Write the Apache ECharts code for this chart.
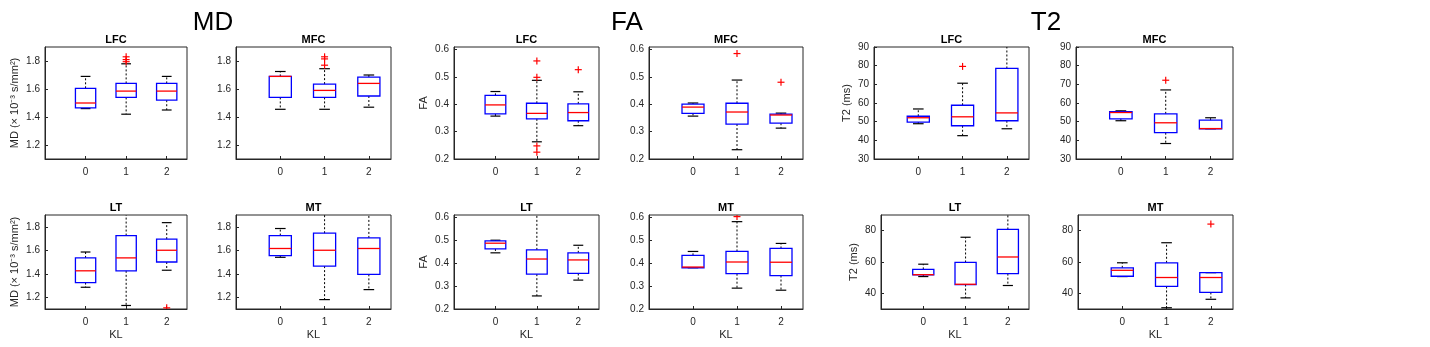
<!DOCTYPE html>
<html>
<head>
<meta charset="utf-8">
<script src="https://cdn.jsdelivr.net/npm/echarts@6/dist/echarts.min.js"></script>
<style>
  html, body { margin: 0; padding: 0; background: #fff; }
  #main { width: 1430px; height: 347px; }
</style>
</head>
<body>
<div id="main"></div>
<script>
// KL grades (x positions) and tick values
const kl = [0, 1, 2];
const mdTicks = [1.2, 1.4, 1.6, 1.8];
const faTicks = [0.2, 0.3, 0.4, 0.5, 0.6];
const t2TicksTop = [30, 40, 50, 60, 70, 80, 90];
const t2TicksBottom = [40, 60, 80];

// box stats per KL group: [lower whisker, q1, median, q3, upper whisker]
const mdLFC = [[1.46, 1.465, 1.50, 1.605, 1.69], [1.42, 1.54, 1.585, 1.64, 1.78], [1.45, 1.52, 1.585, 1.64, 1.69]];
const mdLFCOut = [[], [1.795, 1.81, 1.83], []];
const mdMFC = [[1.455, 1.54, 1.69, 1.69, 1.725], [1.455, 1.54, 1.59, 1.635, 1.745], [1.47, 1.55, 1.64, 1.685, 1.70]];
const mdMFCOut = [[], [1.77, 1.815, 1.83], []];
const mdLT = [[1.285, 1.325, 1.425, 1.535, 1.585], [1.13, 1.425, 1.535, 1.725, 1.95], [1.43, 1.50, 1.60, 1.695, 1.835]];
const mdLTOut = [[], [], [1.11]];
const mdMT = [[1.54, 1.555, 1.615, 1.725, 1.785], [1.18, 1.465, 1.60, 1.745, 1.95], [1.265, 1.395, 1.615, 1.705, 1.95]];
const mdMTOut = [[], [], []];

const faLFC = [[0.357, 0.365, 0.398, 0.433, 0.447], [0.263, 0.347, 0.367, 0.404, 0.488], [0.322, 0.34, 0.37, 0.402, 0.446]];
const faLFCOut = [[], [0.225, 0.248, 0.499, 0.559], [0.527]];
const faMFC = [[0.357, 0.367, 0.39, 0.401, 0.405], [0.234, 0.328, 0.372, 0.404, 0.489], [0.313, 0.331, 0.361, 0.364, 0.368]];
const faMFCOut = [[], [0.586], [0.481]];
const faLT = [[0.445, 0.462, 0.487, 0.497, 0.50], [0.257, 0.352, 0.418, 0.458, 0.65], [0.326, 0.355, 0.414, 0.445, 0.478]];
const faLTOut = [[], [], []];
const faMT = [[0.38, 0.38, 0.383, 0.434, 0.451], [0.291, 0.354, 0.405, 0.451, 0.581], [0.282, 0.346, 0.404, 0.464, 0.486]];
const faMTOut = [[], [0.603], []];

const t2LFC = [[48.9, 49.8, 52.1, 52.9, 56.8], [42.5, 47.8, 52.6, 58.8, 70.6], [46.2, 50.5, 54.7, 78.5, 95]];
const t2LFCOut = [[], [79.6], []];
const t2MFC = [[50.5, 51.5, 54.9, 55.4, 55.8], [38.3, 44.1, 49.4, 54.2, 67], [46.2, 46.2, 46.3, 50.8, 52.1]];
const t2MFCOut = [[], [72.2], []];
const t2LT = [[50.7, 51.8, 51.9, 55.3, 58.6], [37.1, 45.6, 45.8, 59.7, 75.8], [45.0, 52.6, 63.2, 80.8, 95]];
const t2LTOut = [[], [], []];
const t2MT = [[50.7, 50.9, 54.7, 56.3, 59.5], [30.8, 44.4, 50.1, 59.5, 72.3], [36.2, 40.6, 50.1, 53.2, 53.2]];
const t2MTOut = [[], [], [84.2]];

const FONT = '"Liberation Sans", Arial, sans-serif';
const TXT = '#262626';
const mdName = 'MD (× 10⁻³ s/mm²)';

// layout of each panel
const panels = [
  { box: mdLFC, out: mdLFCOut, title: 'LFC', left: 45, top: 47, width: 142, height: 112, min: 1.1, max: 1.9, ticks: mdTicks, yName: mdName, gap: 25 },
  { box: mdMFC, out: mdMFCOut, title: 'MFC', left: 236, top: 47, width: 155, height: 112, min: 1.1, max: 1.9, ticks: mdTicks },
  { box: mdLT, out: mdLTOut, title: 'LT', left: 45, top: 215, width: 142, height: 94, min: 1.1, max: 1.9, ticks: mdTicks, yName: mdName, gap: 25, kl: true },
  { box: mdMT, out: mdMTOut, title: 'MT', left: 236, top: 215, width: 155, height: 94, min: 1.1, max: 1.9, ticks: mdTicks, kl: true },
  { box: faLFC, out: faLFCOut, title: 'LFC', left: 454, top: 47, width: 145, height: 112, min: 0.2, max: 0.61, ticks: faTicks, yName: 'FA', gap: 25 },
  { box: faMFC, out: faMFCOut, title: 'MFC', left: 649, top: 47, width: 154, height: 112, min: 0.2, max: 0.61, ticks: faTicks },
  { box: faLT, out: faLTOut, title: 'LT', left: 454, top: 215, width: 145, height: 94, min: 0.2, max: 0.61, ticks: faTicks, yName: 'FA', gap: 25, kl: true },
  { box: faMT, out: faMTOut, title: 'MT', left: 649, top: 215, width: 154, height: 94, min: 0.2, max: 0.61, ticks: faTicks, kl: true },
  { box: t2LFC, out: t2LFCOut, title: 'LFC', left: 874, top: 47, width: 155, height: 112, min: 30, max: 90, ticks: t2TicksTop, yName: 'T2 (ms)', gap: 22 },
  { box: t2MFC, out: t2MFCOut, title: 'MFC', left: 1076, top: 47, width: 157, height: 112, min: 30, max: 90, ticks: t2TicksTop },
  { box: t2LT, out: t2LTOut, title: 'LT', left: 881, top: 215, width: 148, height: 94, min: 30, max: 90, ticks: t2TicksBottom, yName: 'T2 (ms)', gap: 22, kl: true },
  { box: t2MT, out: t2MTOut, title: 'MT', left: 1078, top: 215, width: 155, height: 94, min: 30, max: 90, ticks: t2TicksBottom, kl: true }
];

function renderBox(params, api) {
  const x = api.value(0);
  const lo = api.coord([x, api.value(1)]);
  const q1 = api.coord([x, api.value(2)]);
  const md = api.coord([x, api.value(3)]);
  const q3 = api.coord([x, api.value(4)]);
  const hi = api.coord([x, api.value(5)]);
  const unit = api.size([1, 0])[0];
  const bw = unit * 0.25;
  const cw = unit * 0.12;
  const cx = q1[0];
  const dash = { stroke: '#000', lineWidth: 1, lineDash: [2, 2] };
  const cap = { stroke: '#000', lineWidth: 1.2 };
  return {
    type: 'group',
    children: [
      { type: 'line', shape: { x1: cx, y1: q3[1], x2: cx, y2: hi[1] }, style: dash },
      { type: 'line', shape: { x1: cx, y1: q1[1], x2: cx, y2: lo[1] }, style: dash },
      { type: 'line', shape: { x1: cx - cw, y1: hi[1], x2: cx + cw, y2: hi[1] }, style: cap },
      { type: 'line', shape: { x1: cx - cw, y1: lo[1], x2: cx + cw, y2: lo[1] }, style: cap },
      { type: 'rect', shape: { x: cx - bw, y: q3[1], width: bw * 2, height: q1[1] - q3[1] },
        style: { fill: 'none', stroke: '#0000ff', lineWidth: 1.3 } },
      { type: 'line', shape: { x1: cx - bw, y1: md[1], x2: cx + bw, y2: md[1] },
        style: { stroke: '#ff0000', lineWidth: 1.3 } }
    ]
  };
}

function renderPlus(params, api) {
  const p = api.coord([api.value(0), api.value(1)]);
  const s = 3.5;
  const st = { stroke: '#ff0000', lineWidth: 1.2 };
  return {
    type: 'group',
    children: [
      { type: 'line', shape: { x1: p[0] - s, y1: p[1], x2: p[0] + s, y2: p[1] }, style: st },
      { type: 'line', shape: { x1: p[0], y1: p[1] - s, x2: p[0], y2: p[1] + s }, style: st }
    ]
  };
}

const grid = [], xAxis = [], yAxis = [], series = [], graphic = [];

panels.forEach((p, i) => {
  grid.push({ left: p.left, top: p.top, width: p.width, height: p.height,
    show: true, borderColor: TXT, borderWidth: 1, backgroundColor: '#fff' });
  xAxis.push({
    gridIndex: i, type: 'value', min: -1, max: 2.5,
    axisLine: { onZero: false, lineStyle: { color: TXT } },
    axisTick: { inside: true, length: 3, customValues: kl, lineStyle: { color: TXT } },
    axisLabel: { customValues: kl, color: TXT, fontSize: 10, fontFamily: FONT, margin: 8 },
    splitLine: { show: false },
    name: p.kl ? 'KL' : '', nameLocation: 'middle', nameGap: 20,
    nameTextStyle: { color: TXT, fontSize: 11, fontFamily: FONT }
  });
  yAxis.push({
    gridIndex: i, type: 'value', min: p.min, max: p.max,
    axisLine: { onZero: false, lineStyle: { color: TXT } },
    axisTick: { inside: true, length: 3, customValues: p.ticks, lineStyle: { color: TXT } },
    axisLabel: { customValues: p.ticks, color: TXT, fontSize: 10, fontFamily: FONT, margin: 5 },
    splitLine: { show: false },
    name: p.yName || '', nameLocation: 'middle', nameGap: p.gap || 25,
    nameTextStyle: { color: TXT, fontSize: 11, fontFamily: FONT }
  });
  series.push({
    type: 'custom', xAxisIndex: i, yAxisIndex: i, clip: true,
    renderItem: renderBox,
    encode: { x: 0, y: [1, 2, 3, 4, 5] },
    data: p.box.map((b, g) => [kl[g]].concat(b))
  });
  const outs = [];
  p.out.forEach((vals, g) => vals.forEach(v => outs.push([kl[g], v])));
  series.push({
    type: 'custom', xAxisIndex: i, yAxisIndex: i, clip: true,
    renderItem: renderPlus,
    encode: { x: 0, y: 1 },
    data: outs
  });
  graphic.push({
    type: 'text', x: p.left + p.width / 2, y: p.top - 7,
    style: { text: p.title, fill: '#000', font: 'bold 11px ' + FONT,
      textAlign: 'center', textVerticalAlign: 'middle', align: 'center', verticalAlign: 'middle' }
  });
});

// group headings
[['MD', 213], ['FA', 627], ['T2', 1046]].forEach(([t, x]) => {
  graphic.push({
    type: 'text', x: x, y: 23,
    style: { text: t, fill: '#000', font: '26px ' + FONT,
      textAlign: 'center', textVerticalAlign: 'middle', align: 'center', verticalAlign: 'middle' }
  });
});

const myChart = echarts.init(document.getElementById('main'), null, { renderer: 'canvas' });
myChart.setOption({
  animation: false,
  backgroundColor: '#fff',
  grid: grid,
  xAxis: xAxis,
  yAxis: yAxis,
  series: series,
  graphic: graphic
});
</script>
</body>
</html>
